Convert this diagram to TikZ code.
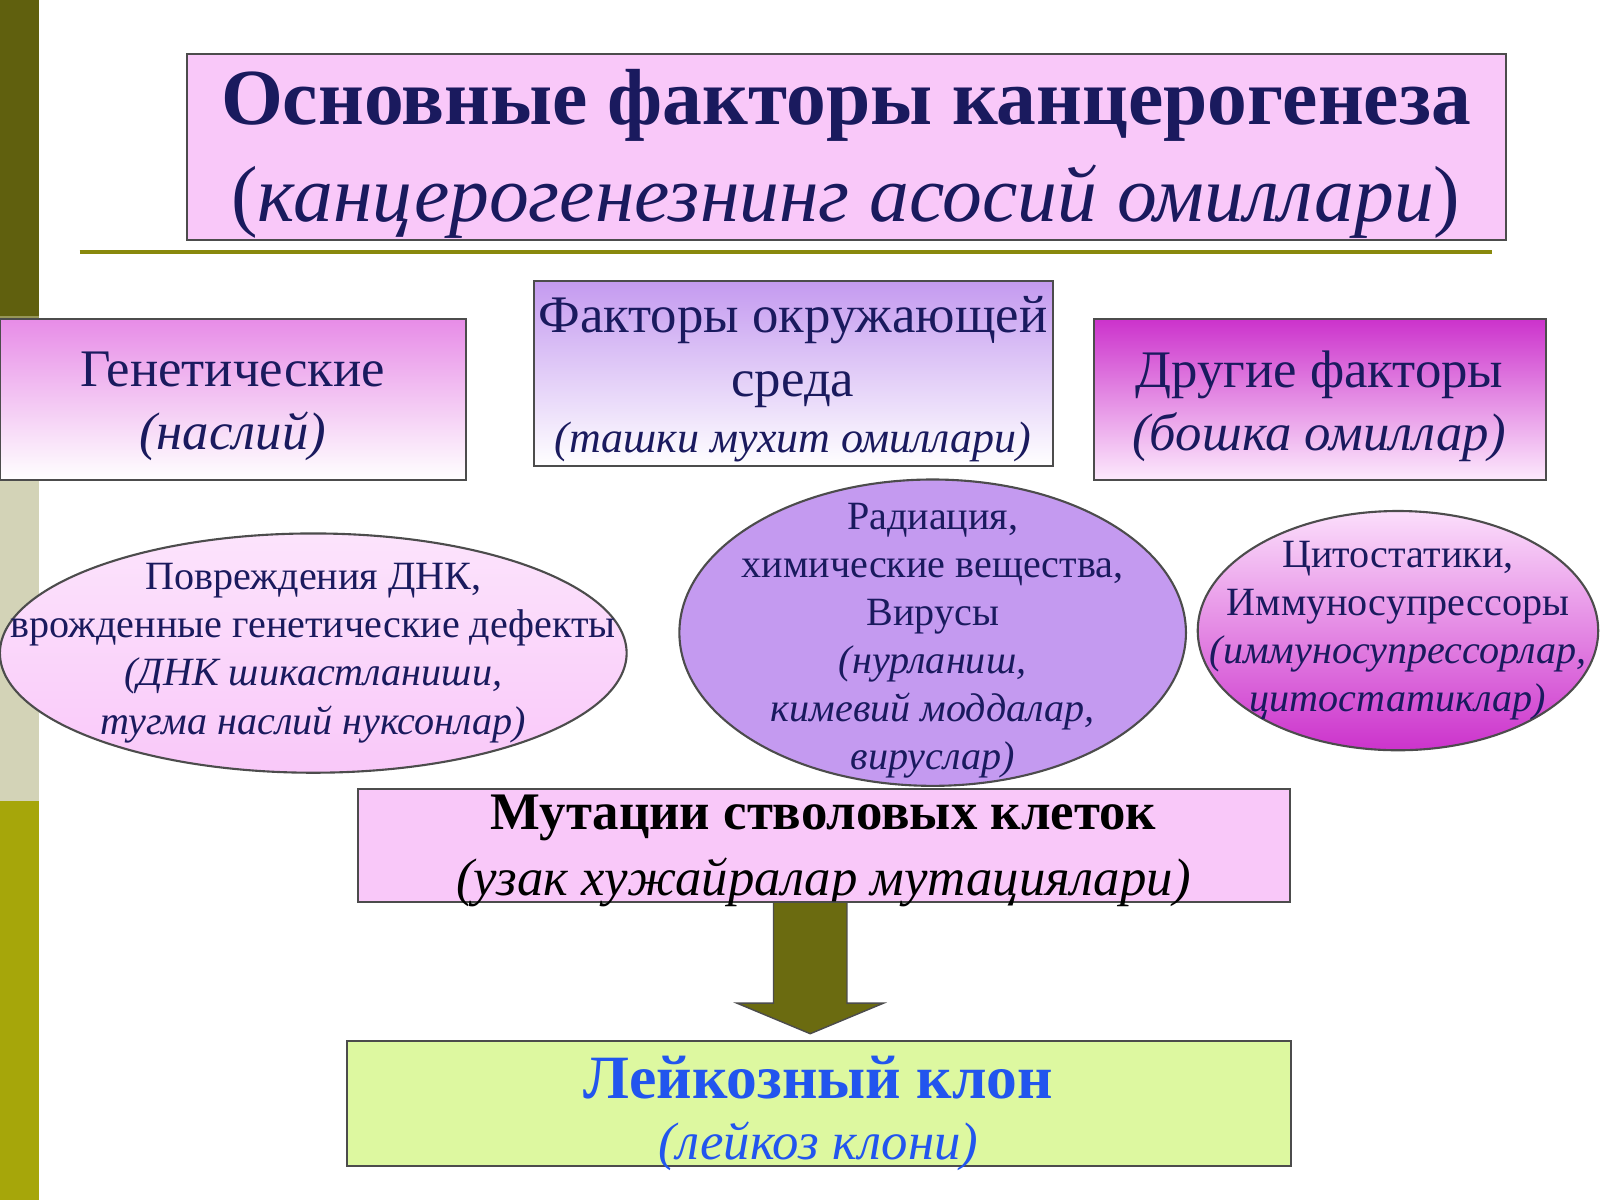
\documentclass[tikz,border=0pt]{standalone}
\usepackage{fontspec}
\setmainfont{Liberation Serif}
\usetikzlibrary{positioning}
\usetikzlibrary{shapes.geometric}
\definecolor{navy}{HTML}{1A1A5E}
\definecolor{pinkbox}{HTML}{F9C8F9}
\definecolor{violet}{HTML}{C49AF0}
\definecolor{magent}{HTML}{CC33CC}
\definecolor{olive}{HTML}{6B6B10}
\definecolor{lime}{HTML}{DDF8A0}
\definecolor{kblue}{HTML}{2255EE}
\tikzset{
  box/.style={draw=black!70,line width=0.6pt,inner sep=0pt},
  oval/.style={draw=black!70,line width=0.6pt,ellipse,inner sep=0pt},
  txt/.style={align=center,font=\fontsize{#1}{1.2\dimexpr#1\relax}\selectfont,text=navy}
}
\begin{document}
\begin{tikzpicture}[x=0.0102cm,y=-0.0102cm]
\useasboundingbox (0,0) rectangle (1568,1176);
% side bar
\fill[olive!90!black] (0,0) rectangle (38,310);
\fill[olive!70!white] (0,310) rectangle (38,470);
\fill[olive!30!white] (0,470) rectangle (38,785);
\fill[olive!60!yellow] (0,785) rectangle (38,1176);
% title
\draw[box,fill=pinkbox] (183,53) rectangle (1476,235);
\node[txt=22.6pt,font=\bfseries\fontsize{22.6pt}{27pt}\selectfont] (title) at (829,103) {Основные факторы канцерогенеза};
\node[txt=22.6pt] (subtitle) at (829,198) {(\textit{канцерогенезнинг асосий омиллари})};
\draw[olive!80!yellow,line width=1pt] (78,247) -- (1462,247);
% groups
\draw[box,top color=pinkbox!60!magent,bottom color=white] (0,313) rectangle (457,470);
\node[txt=15pt] (gen) at (228,398) {Генетические\\\textit{(наслий)}};
\draw[box,top color=violet,bottom color=white] (523,275) rectangle (1032,457);
\node[txt=15pt] (env) at (777,345) {Факторы окружающей\\среда};
\node[txt=12.5pt] (envu) at (777,433) {\textit{(ташки мухит омиллари)}};
\draw[box,top color=magent,bottom color=pinkbox!40!white] (1072,313) rectangle (1515,470);
\node[txt=15pt] (oth) at (1293,398) {Другие факторы\\\textit{(бошка омиллар)}};
% ovals
\node[oval,minimum width=6.26cm,minimum height=2.39cm,top color=pinkbox!50!white,bottom color=pinkbox] (dna) at (307,640) {};
\node[txt=11.4pt] at (dna) {Повреждения ДНК,\\врожденные генетические дефекты\\\textit{(ДНК шикастланиши,}\\\textit{тугма наслий нуксонлар)}};
\node[oval,minimum width=5.06cm,minimum height=3.06cm,fill=violet] (rad) at (914,620) {};
\node[txt=11.4pt] at ([yshift=-0.08cm]rad.center) {Радиация,\\химические вещества,\\Вирусы\\\textit{(нурланиш,}\\\textit{кимевий моддалар,}\\\textit{вируслар)}};
\node[oval,minimum width=4.0cm,minimum height=2.39cm,top color=pinkbox!60!white,bottom color=magent] (cyt) at (1370,618) {};
\node[txt=11.4pt] at (cyt) {Цитостатики,\\Иммуносупрессоры\\\textit{(иммуносупрессорлар,}\\\textit{цитостатиклар)}};
% mutation
\draw[box,fill=pinkbox] (351,773) rectangle (1264,884);
\node[txt=15pt,text=black,font=\bfseries\fontsize{15pt}{18pt}\selectfont] (mut) at (807,802) {Мутации стволовых клеток};
\node[txt=15pt,text=black] (mutu) at (807,865) {\textit{(узак хужайралар мутациялари)}};
% arrow
\draw[black!70,fill=olive] (758,884) -- (830,884) -- (830,983) -- (866,983) -- (794,1013) -- (722,983) -- (758,983) -- cycle;
% clone
\draw[box,fill=lime] (340,1020) rectangle (1265,1143);
\node[txt=17.5pt,text=kblue,font=\bfseries\fontsize{17.5pt}{21pt}\selectfont] (clone) at (802,1056) {Лейкозный клон};
\node[txt=15pt,text=kblue] (cloneu) at (802,1123) {\textit{(лейкоз клони)}};
\end{tikzpicture}
\end{document}
